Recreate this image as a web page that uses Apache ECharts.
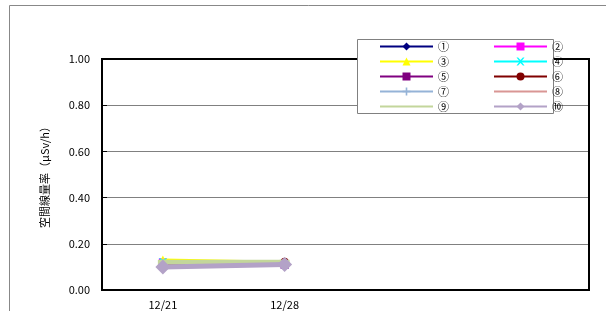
<!DOCTYPE html>
<html><head><meta charset="utf-8">
<script src="https://cdn.jsdelivr.net/npm/echarts@6/dist/echarts.min.js"></script>
<style>html,body{margin:0;padding:0;background:#fff}#c{width:606px;height:311px}</style>
</head><body><div id="c"></div>
<script>
const categories = ['12/21', '12/28', '', ''];
const yTicks = [0, 0.2, 0.4, 0.6, 0.8, 1.0];
const seriesNames = ['①','②','③','④','⑤','⑥','⑦','⑧','⑨','⑩'];
const s1 = [0.11, 0.11];
const s2 = [0.12, 0.11];
const s3 = [0.13, 0.12];
const s4 = [0.12, 0.11];
const s5 = [0.11, 0.11];
const s6 = [0.11, 0.12];
const s7 = [0.12, 0.12];
const s8 = [0.12, 0.12];
const s9 = [0.12, 0.12];
const s10 = [0.10, 0.11];
const values = [s1,s2,s3,s4,s5,s6,s7,s8,s9,s10];
const colors = ['#000080','#FF00FF','#FFFF00','#00FFFF','#800080','#800000','#95B3D7','#D99694','#C3D69B','#B3A2C7'];
const X = 'path://M0,0L2,0L5,3L8,0L10,0L6,5L10,10L8,10L5,7L2,10L0,10L4,5Z';
const PLUS = 'path://M4,0L6,0L6,4L10,4L10,6L6,6L6,10L4,10L4,6L0,6L0,4L4,4Z';
const DASH = 'path://M0,0L10,0L10,3L0,3Z';
const symbols = ['diamond','rect','triangle',X,'rect','circle',PLUS,DASH,DASH,'diamond'];
const sizes = [8,8,9,8,8,9,7,[8,3],[10,5],15];
const lineWidths = [3,3,3,3,3,3,3,3,5,5];

const chart = echarts.init(document.getElementById('c'), null, {renderer:'canvas'});
const font = '"Noto Sans CJK JP", sans-serif';
const series = seriesNames.map((n,i)=>({
  name:n, type:'line', data: values[i], color: colors[i],
  symbol: symbols[i], symbolSize: sizes[i], showAllSymbol:true, symbolKeepAspect:false,
  lineStyle:{width:lineWidths[i], color: colors[i]},
  itemStyle:{color: colors[i], borderWidth:0},
  emphasis:{disabled:true}, animation:false, z: 2+i
}));
const legendCommon = {
  orient:'vertical', itemWidth:53, itemHeight:10, itemGap:4, top:41, z:30,
  textStyle:{fontFamily:font, fontSize:11, lineHeight:11, color:'#000', padding:[0,0,0,0]},
  selectedMode:false, padding:0
};
chart.setOption({
  animation:false,
  backgroundColor:'#fff',
  grid:{left:102, top:59, right:17, bottom:21, show:true, borderColor:'#000', borderWidth:2, z:1},
  graphic:[
    {type:'rect', shape:{x:9.5,y:5.5,width:620,height:320}, style:{fill:null, stroke:'#888', lineWidth:1}, z:0, silent:true},
    {type:'rect', shape:{x:357.5,y:39.5,width:196,height:74}, style:{fill:'#fff', stroke:'#808080', lineWidth:1}, z:20, silent:true}
  ],
  legend:[
    Object.assign({}, legendCommon, {left:379, data:['①','③','⑤','⑦',{name:'⑨', itemStyle:{opacity:0}}]}),
    Object.assign({}, legendCommon, {left:493, data:['②','④','⑥',{name:'⑧', itemStyle:{opacity:0}},'⑩']})
  ],
  xAxis:{type:'category', data:categories, boundaryGap:true,
    axisLine:{lineStyle:{color:'#000', width:2}}, axisTick:{show:false},
    axisLabel:{fontFamily:font, fontSize:11, color:'#000', margin:9, interval:0},
    splitLine:{show:false}},
  yAxis:{type:'value', min:0, max:1, interval:0.2,
    name:'空間線量率（μSv/h）', nameLocation:'middle', nameGap:52, nameRotate:90,
    nameTextStyle:{fontFamily:font, fontSize:11, color:'#000'},
    axisLine:{show:true, lineStyle:{color:'#000', width:2}},
    axisTick:{show:true, inside:true, length:5, lineStyle:{color:'#000'}},
    axisLabel:{fontFamily:font, fontSize:11, color:'#000', margin:12, formatter:v=>v.toFixed(2)},
    splitLine:{show:true, lineStyle:{color:'#808080', width:1}}},
  series: series
});
</script></body></html>
